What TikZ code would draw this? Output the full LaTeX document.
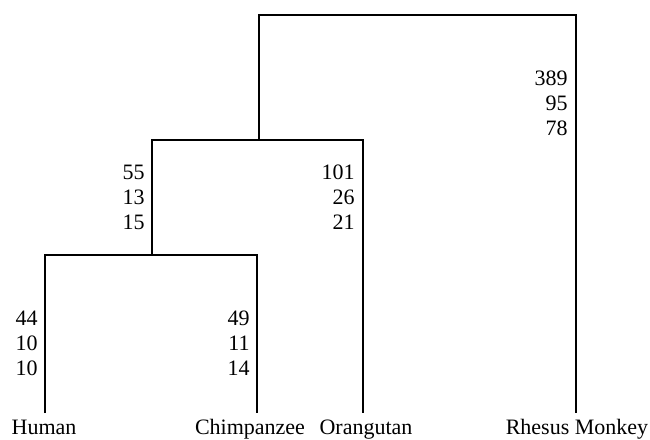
\documentclass[tikz,border=0pt]{standalone}
\usepackage{fontspec}
\setmainfont{Liberation Serif}
\usetikzlibrary{positioning}

\begin{document}
\begin{tikzpicture}[x=0.5pt, y=-0.5pt,
    branch/.style = {line width=1pt, line join=miter},
    taxon/.style = {font=\fontsize{11}{13}\selectfont, anchor=base, inner sep=0pt},
    dist/.style = {font=\fontsize{11}{12.5}\selectfont, align=right, anchor=east, inner sep=0pt},
    ]
    \useasboundingbox (0,0) rectangle (650,440);

    % tips of the branches
    \coordinate (t1) at (45,413);
    \coordinate (t2) at (257,413);
    \coordinate (t3) at (363,413);
    \coordinate (t4) at (576,413);
    % joins
    \coordinate (j1) at (152,255);
    \coordinate (j2) at (259,140);
    \coordinate (root) at (259,15);

    \draw[branch] (t1) |- (j1) -| (t2);
    \draw[branch] (j1) |- (j2) -| (t3);
    \draw[branch] (j2) -- (root) -| (t4);

    \node[taxon] (human) at (44,434) {Human};
    \node[taxon] (chimp) at (250,434) {Chimpanzee};
    \node[taxon] (orang) at (366,434) {Orangutan};
    \node[taxon] (rhesus) at (577,434) {Rhesus Monkey};

    \node[dist] (d1) at (38,343) {44\\10\\10};
    \node[dist] (d2) at (250,343) {49\\11\\14};
    \node[dist] (d3) at (145,197) {55\\13\\15};
    \node[dist] (d4) at (355,197) {101\\26\\21};
    \node[dist] (d5) at (568,103) {389\\95\\78};
\end{tikzpicture}
\end{document}
